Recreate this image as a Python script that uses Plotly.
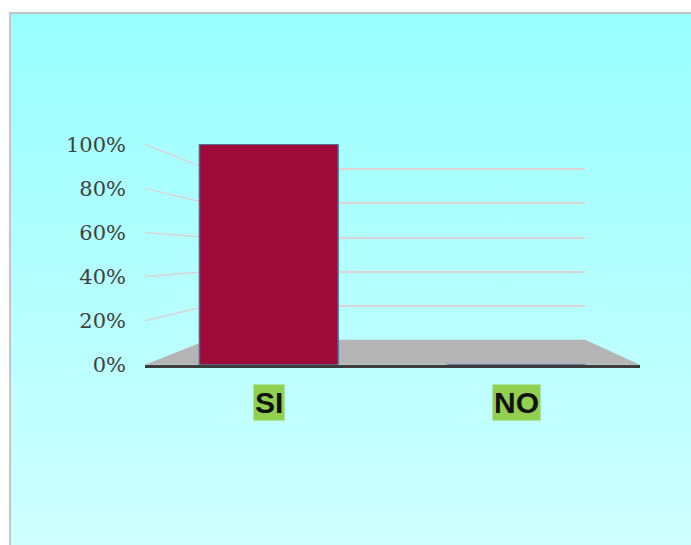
import base64
import plotly.graph_objects as go

# ---- data ----
categories = ["SI", "NO"]
values = [1.0, 0.0]
tick_values = [0, 0.2, 0.4, 0.6, 0.8, 1.0]
tick_labels = ["0%", "20%", "40%", "60%", "80%", "100%"]

W, H = 691, 560
# the page is photographed with a small vertical offset/scale; compensate
Y_OFF, Y_SCALE = 12.0, 0.955

def px_x(p):
    return p / W

def px_y(p):
    fig_p = (p - Y_OFF) / Y_SCALE
    return 1 - fig_p / H

# front plane (value axis with labels)
front_x = [px_x(145), px_x(640)]
front_y = [px_y(364), px_y(144)]
# back wall (gridlines); range extended a bit so the top gridline is kept
back_top = 1.03
back_x = [px_x(208), px_x(585)]
back_y = [px_y(339), px_y(339 - 170 * back_top)]

def fy(v):
    return front_y[0] + v * (front_y[1] - front_y[0])

def by(v):
    return back_y[0] + v / back_top * (back_y[1] - back_y[0])

svg = (
    '<svg xmlns="http://www.w3.org/2000/svg" width="100" height="100" preserveAspectRatio="none">'
    '<defs><linearGradient id="g" x1="0" y1="0" x2="0" y2="1">'
    '<stop offset="0" stop-color="#99FFFF"/><stop offset="1" stop-color="#CFFFFF"/>'
    '</linearGradient></defs><rect width="100" height="100" fill="url(#g)"/></svg>'
)
bg_uri = "data:image/svg+xml;base64," + base64.b64encode(svg.encode()).decode()

fig = go.Figure()

fig.add_trace(go.Scatter(x=[], y=[], xaxis="x", yaxis="y", showlegend=False, hoverinfo="skip"))

fig.add_trace(go.Bar(
    x=categories, y=values, xaxis="x2", yaxis="y2", width=0.56,
    marker=dict(color="#9E0A39", line=dict(color="#3F6A9C", width=1.5)),
    showlegend=False,
))

shapes = []
shapes.append(dict(
    type="path", xref="paper", yref="paper", layer="below",
    path=f"M {front_x[0]} {fy(0)} L {back_x[0]} {by(0)} L {back_x[1]} {by(0)} L {front_x[1]} {fy(0)} Z",
    fillcolor="#B5B5B5", line=dict(width=0),
))
for v in tick_values[1:]:
    shapes.append(dict(
        type="line", xref="paper", yref="paper", layer="below",
        x0=front_x[0], y0=fy(v), x1=back_x[0], y1=by(v),
        line=dict(color="#DCD4D4", width=1.5),
    ))
top_border = 1 - 1.0 / H
shapes.append(dict(
    type="rect", xref="paper", yref="paper", layer="above",
    x0=px_x(10), x1=1.05, y0=-0.05, y1=top_border,
    line=dict(color="#C4C4C4", width=2), fillcolor="rgba(0,0,0,0)",
))

annotations = []
for c in categories:
    annotations.append(dict(
        x=c, xref="x2", y=px_y(402), yref="paper", yanchor="middle",
        text=f"<b>{c}</b>", showarrow=False,
        font=dict(family="Liberation Sans, Arial", size=30, color="#111111"),
        bgcolor="#92D050", borderpad=1,
    ))

fig.update_layout(
    width=W, height=H,
    margin=dict(l=0, r=0, t=0, b=0),
    paper_bgcolor="white",
    plot_bgcolor="rgba(0,0,0,0)",
    images=[dict(
        source=bg_uri, xref="paper", yref="paper",
        x=px_x(11), y=top_border, sizex=1 - px_x(11), sizey=top_border,
        xanchor="left", yanchor="top", sizing="stretch", layer="below",
    )],
    xaxis=dict(domain=back_x, range=[0, 1], visible=False, anchor="y"),
    yaxis=dict(domain=back_y, range=[0, back_top], anchor="x", tickvals=tick_values[1:],
               showgrid=True, gridcolor="#DCD4D4", gridwidth=1.5,
               showticklabels=False, zeroline=False, showline=False, ticks=""),
    xaxis2=dict(domain=front_x, type="category", categoryorder="array",
                categoryarray=categories, range=[-0.5, 1.5], anchor="y2",
                showticklabels=False, showgrid=False, zeroline=False,
                showline=True, linecolor="#3C3C3C", linewidth=3, ticks=""),
    yaxis2=dict(domain=front_y, range=[0, 1], anchor="x2",
                tickvals=tick_values, ticktext=tick_labels,
                tickfont=dict(family="DejaVu Serif", size=21, color="#404040"),
                showgrid=False, zeroline=False, showline=False, ticks="",
                ticklabelstandoff=18),
    shapes=shapes,
    annotations=annotations,
    bargap=0.44,
)

post = (
    "document.documentElement.style.margin='0';"
    "document.documentElement.style.overflow='hidden';"
    "document.body.style.margin='0';document.body.style.overflow='hidden';"
    "var d=document.getElementById('{plot_id}');"
    "d.style.position='fixed';d.style.top='0px';d.style.left='0px';"
)

fig.write_html("out.html", config={"displayModeBar": False}, post_script=post)
